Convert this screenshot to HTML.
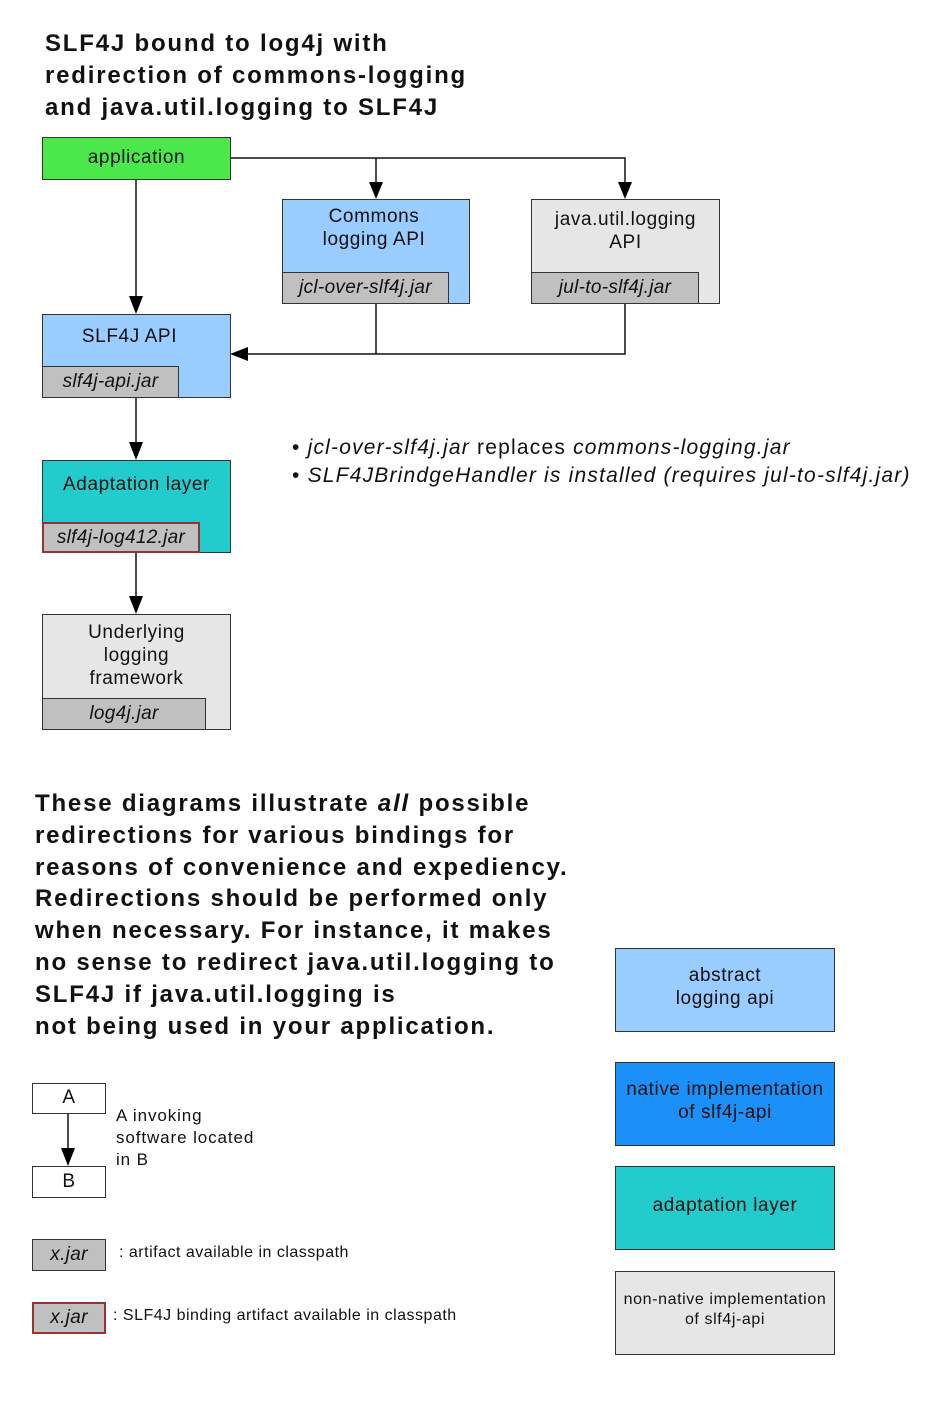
<!DOCTYPE html>
<html><head><style>
body{margin:0;width:950px;height:1412px;background:#fff;position:relative;font-family:"Liberation Sans",sans-serif;color:#111;overflow:hidden}
.b{position:absolute;border:1.5px solid #333;box-sizing:border-box;text-align:center;font-size:19px;line-height:23px;letter-spacing:0.6px;white-space:nowrap}
.j{position:absolute;border:1.5px solid #333;box-sizing:border-box;background:#c0c0c0;font-style:italic;font-size:19px;text-align:center;letter-spacing:0.3px}
.t{position:absolute;white-space:nowrap}
.h{position:absolute;font-weight:bold;font-size:24px;line-height:32px;white-space:nowrap;letter-spacing:1.8px}
</style></head><body>
<div class="h" style="left:45px;top:28px">SLF4J bound to log4j with<br>redirection of commons-logging<br>and java.util.logging to SLF4J</div>

<svg style="position:absolute;left:0;top:0" width="950" height="1412">
<g stroke="#111" stroke-width="1.5" fill="none">
<path d="M230 158H625V184M376 158V184M136 179V298M376 303V354M625 303V354H245M136 397V444M136 552V598M68 1113V1150"/>
</g>
<g fill="#000">
<path d="M369 182L383 182L376 199Z"/><path d="M618 182L632 182L625 199Z"/>
<path d="M129 296L143 296L136 314Z"/><path d="M248 347L248 361L230 354Z"/>
<path d="M129 442L143 442L136 460Z"/><path d="M129 596L143 596L136 614Z"/>
<path d="M61 1148L75 1148L68 1166Z"/>
</g></svg>

<div class="b" style="left:42px;top:137px;width:189px;height:43px;background:#4be84b;line-height:40px">application</div>
<div class="b" style="left:282px;top:199px;width:188px;height:105px;background:#99ccff;padding-top:5px;padding-right:4px">Commons<br>logging API</div>
<div class="j" style="left:282px;top:272px;width:167px;height:32px;line-height:29px">jcl-over-slf4j.jar</div>
<div class="b" style="left:531px;top:199px;width:189px;height:105px;background:#e6e6e6;padding-top:8px">java.util.logging<br>API</div>
<div class="j" style="left:531px;top:272px;width:168px;height:32px;line-height:29px">jul-to-slf4j.jar</div>
<div class="b" style="left:42px;top:314px;width:189px;height:84px;background:#99ccff;padding-top:10px;padding-right:14px">SLF4J API</div>
<div class="j" style="left:42px;top:366px;width:137px;height:32px;line-height:29px">slf4j-api.jar</div>
<div class="b" style="left:42px;top:460px;width:189px;height:93px;background:#22cccc;padding-top:12px">Adaptation layer</div>
<div class="j" style="left:42px;top:522px;width:158px;height:31px;line-height:28px;border:2px solid #993333">slf4j-log412.jar</div>
<div class="b" style="left:42px;top:614px;width:189px;height:116px;background:#e6e6e6;padding-top:6px">Underlying<br>logging<br>framework</div>
<div class="j" style="left:42px;top:698px;width:164px;height:32px;line-height:29px">log4j.jar</div>

<div class="t" style="left:292px;top:434px;font-size:21px;line-height:28px;letter-spacing:1.2px">• <i>jcl-over-slf4j.jar</i> replaces <i>commons-logging.jar</i><br>• <i>SLF4JBrindgeHandler is installed (requires jul-to-slf4j.jar)</i></div>

<div class="h" style="left:35px;top:788px;line-height:31.8px">These diagrams illustrate <i>all</i> possible<br>redirections for various bindings for<br>reasons of convenience and expediency.<br>Redirections should be performed only<br>when necessary. For instance, it makes<br>no sense to redirect java.util.logging to<br>SLF4J if java.util.logging is<br>not being used in your application.</div>

<div class="b" style="left:32px;top:1083px;width:74px;height:31px;background:#fff;line-height:28px">A</div>
<div class="b" style="left:32px;top:1166px;width:74px;height:32px;background:#fff;line-height:29px">B</div>
<div class="t" style="left:116px;top:1105px;font-size:17px;line-height:22px;letter-spacing:0.9px">A invoking<br>software located<br>in B</div>
<div class="j" style="left:32px;top:1239px;width:74px;height:32px;line-height:29px">x.jar</div>
<div class="t" style="left:119px;top:1244px;font-size:16px;letter-spacing:0.5px">: artifact available in classpath</div>
<div class="j" style="left:32px;top:1302px;width:74px;height:32px;line-height:28px;border:2px solid #993333">x.jar</div>
<div class="t" style="left:113px;top:1307px;font-size:16px;letter-spacing:0.5px">: SLF4J binding artifact available in classpath</div>

<div class="b" style="left:615px;top:948px;width:220px;height:84px;background:#99ccff;padding-top:15px">abstract<br>logging api</div>
<div class="b" style="left:615px;top:1062px;width:220px;height:84px;background:#1a90f8;padding-top:15px">native implementation<br>of slf4j-api</div>
<div class="b" style="left:615px;top:1166px;width:220px;height:84px;background:#22cccc;line-height:78px">adaptation layer</div>
<div class="b" style="left:615px;top:1271px;width:220px;height:84px;background:#e6e6e6;padding-top:18px;font-size:16px;line-height:20px">non-native implementation<br>of slf4j-api</div>
</body></html>
